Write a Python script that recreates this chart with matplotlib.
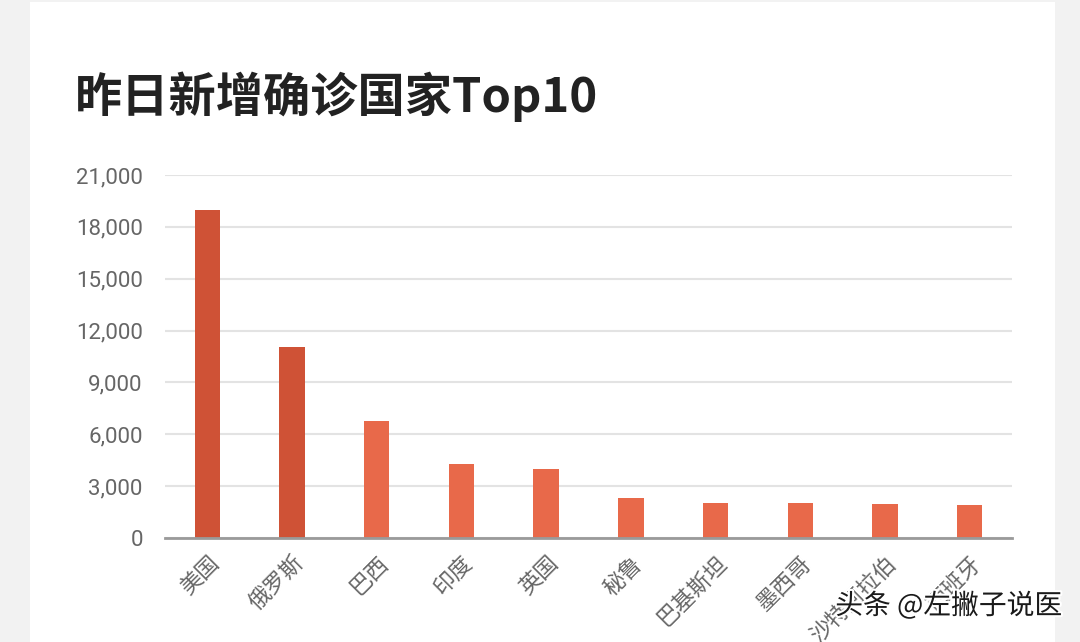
import matplotlib
matplotlib.use("Agg")
import matplotlib.pyplot as plt
import matplotlib.patheffects as pe
from matplotlib.patches import Rectangle
from matplotlib.ticker import FuncFormatter, MultipleLocator

title = "昨日新增确诊国家Top10"
countries = ["美国", "俄罗斯", "巴西", "印度", "英国", "秘鲁", "巴基斯坦", "墨西哥", "沙特阿拉伯", "西班牙"]
new_cases = [19000, 11050, 6780, 4300, 3980, 2340, 2040, 2000, 1980, 1930]
bar_colors = ["#CF5236", "#CF5236", "#E8694A", "#E8694A", "#E8694A",
              "#E8694A", "#E8694A", "#E8694A", "#E8694A", "#E8694A"]
watermark = "头条 @左撇子说医"

CJK = ["Noto Sans CJK SC", "DejaVu Sans"]
NUM = ["Roboto", "Noto Sans CJK SC", "DejaVu Sans"]

fig = plt.figure(figsize=(10.8, 6.42), dpi=100)
fig.patch.set_facecolor("#f2f2f2")
fig.patches.append(Rectangle((30 / 1080, 0), (1055 - 30) / 1080, 1 - 2 / 642,
                             transform=fig.transFigure, facecolor="white",
                             edgecolor="none", zorder=-10))

ax = fig.add_axes([165 / 1080, 104 / 642, (1012 - 165) / 1080, (538 - 175) / 642])
ax.set_zorder(5)
ax.set_facecolor("none")
x = list(range(len(countries)))
ax.bar(x, new_cases, width=0.3, color=bar_colors, zorder=3)
ax.set_xlim(-0.5, len(countries) - 0.5)
ax.set_ylim(0, 21000)
ax.yaxis.set_major_locator(MultipleLocator(3000))
ax.yaxis.set_major_formatter(FuncFormatter(lambda v, p: f"{int(v):,}"))
ax.grid(axis="y", color="#e3e3e3", linewidth=1.5, zorder=0)
for s in ["top", "right", "left"]:
    ax.spines[s].set_visible(False)
ax.spines["bottom"].set_color("#9a9a9a")
ax.spines["bottom"].set_linewidth(2)
ax.spines["bottom"].set_zorder(4)
ax.tick_params(axis="y", length=0, pad=16, labelcolor="#666666", labelsize=16)
ax.tick_params(axis="x", length=0, pad=10)
for lab in ax.get_yticklabels():
    lab.set_family(NUM)
ax.set_xticks(x)
ax.set_xticklabels(countries, rotation=45, ha="right", rotation_mode="anchor",
                   family=CJK, fontsize=16, color="#666666")

fig.text(75 / 1080, 1 - 97 / 642, title, family=["Noto Sans CJK SC", "Roboto"],
         fontsize=34, fontweight="bold", color="#222222", va="center", ha="left")

fig.text(1062 / 1080, 1 - 606 / 642, watermark, family=CJK, fontsize=20,
         color="#1a1a1a", ha="right", va="center", zorder=10,
         path_effects=[pe.withStroke(linewidth=3, foreground="white")])

fig.savefig("out.png", dpi=100, facecolor=fig.get_facecolor())
